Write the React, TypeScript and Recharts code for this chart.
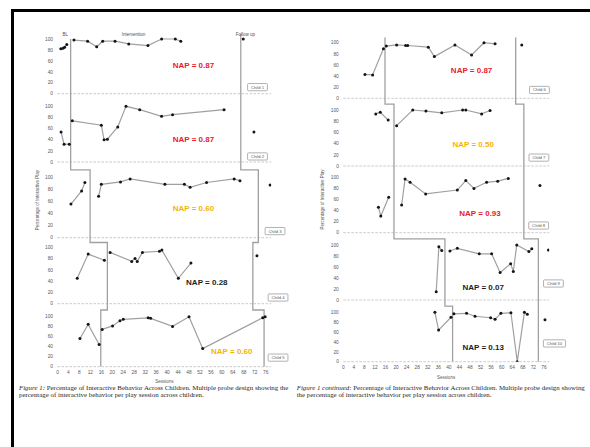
import React from "react";
import { LineChart, Line, XAxis, YAxis, ReferenceLine, ReferenceDot } from "recharts";

type Pt = [number, number]; // [session, % interactive play]

const sessionTicks = [0, 4, 8, 12, 16, 20, 24, 28, 32, 36, 40, 44, 48, 52, 56, 60, 64, 68, 72, 76];
const percentTicks = [0, 20, 40, 60, 80, 100];

// Figure 1: children 1-5
const child1Baseline: Pt[] = [[1.2, 82], [2, 83], [2.6, 85], [3.4, 90]];
const child1Intervention: Pt[] = [[6, 98], [11, 96], [14.3, 86], [16.5, 96], [21, 96], [26, 91], [33, 88], [38, 100], [43, 100], [45, 96]];
const child1FollowUp: Pt[] = [[67.8, 100]];

const child2Baseline: Pt[] = [[1.3, 54], [2.4, 32], [4.3, 32]];
const child2Intervention: Pt[] = [[5.4, 74], [16, 66], [17, 40], [18.2, 41], [22, 63], [25, 100], [30, 94], [38, 82], [42, 85], [60.8, 94]];
const child2FollowUp: Pt[] = [[71.7, 54]];

const child3Baseline: Pt[] = [[4.9, 56], [8.8, 78], [10, 92]];
const child3Intervention: Pt[] = [[15, 69], [16, 89], [23, 93], [26.5, 98], [39.2, 89], [46.3, 89], [48.4, 84], [54.4, 92], [64.5, 98], [66.6, 95]];
const child3FollowUp: Pt[] = [[77.6, 88]];

const child4Baseline: Pt[] = [[7.2, 45], [11.2, 88], [17.1, 77]];
const child4Intervention: Pt[] = [[19.2, 91], [27.1, 75], [28.3, 80], [29.1, 75], [31, 91], [37.2, 93], [38.1, 95], [44.1, 45], [48.7, 72]];
const child4FollowUp: Pt[] = [[72.8, 85]];

const child5Baseline: Pt[] = [[8.2, 56], [11.2, 84], [15.2, 44]];
const child5Intervention: Pt[] = [[16.3, 74], [20.1, 81], [22.8, 91], [24, 94], [33.1, 97], [34, 96], [42, 80], [48, 99], [53, 36], [74.9, 97]];
const child5FollowUp: Pt[] = [[75.8, 99]];

// Figure 1 continued: children 6-10
const child6Baseline: Pt[] = [[8.2, 43], [11.1, 42], [15.2, 89]];
const child6Intervention: Pt[] = [[16.3, 94], [20.2, 96], [23.6, 95], [24.4, 95], [32.2, 92], [34.5, 75], [42.3, 96], [48.6, 78], [53.3, 100], [57.5, 98]];
const child6FollowUp: Pt[] = [[67.6, 96]];

const child7Baseline: Pt[] = [[12.3, 93], [14, 96], [17, 82]];
const child7Intervention: Pt[] = [[20.2, 72], [26.3, 100], [31.3, 98], [37.3, 95], [45.2, 100], [46.4, 100], [52.4, 93], [55.6, 99]];
const child7FollowUp: Pt[] = [];

const child8Baseline: Pt[] = [[13.3, 46], [14.2, 30], [17.2, 64]];
const child8Intervention: Pt[] = [[22.1, 50], [23.4, 97], [25.3, 91], [31.2, 70], [43.2, 77], [46.4, 94], [49.5, 80], [54.3, 91], [58.5, 93], [62.5, 98]];
const child8FollowUp: Pt[] = [[74.5, 85]];

const child9Baseline: Pt[] = [[35.2, 15], [36.2, 97], [37.3, 90]];
const child9Intervention: Pt[] = [[40.4, 89], [43.2, 94], [51.5, 84], [56.2, 84], [59.4, 50], [63.4, 66], [64.4, 52], [65.7, 100], [70.3, 88], [71.4, 93]];
const child9FollowUp: Pt[] = [[77.7, 91]];

const child10Baseline: Pt[] = [[34.7, 100], [36.1, 64], [40.8, 90]];
const child10Intervention: Pt[] = [[41.9, 97], [46.7, 98], [49.9, 92], [55.8, 89], [57.5, 86], [59.7, 98], [63.5, 99], [65.9, 0], [68.6, 100], [69.7, 96]];
const child10FollowUp: Pt[] = [[76.4, 85]];

// session where each phase ends (top child first)
const leftBaselineEnd = [4.8, 4.8, 11.9, 18.2, 15.8];
const leftInterventionEnd = [66.9, 66.9, 73.3, 71.3, 75.4];
const rightBaselineEnd = [15.8, 19.2, 19.2, 38.5, 41.4];
const rightInterventionEnd = [65.3, 68.4, 68.4, 73.9, 73.9];

const leftChildNames = ["Child 1", "Child 2", "Child 3", "Child 4", "Child 5"];
const rightChildNames = ["Child 6", "Child 7", "Child 8", "Child 9", "Child 10"];
const leftNapLabels = ["NAP = 0.87", "NAP = 0.87", "NAP = 0.60", "NAP = 0.28", "NAP = 0.60"];
const rightNapLabels = ["NAP = 0.87", "NAP = 0.50", "NAP = 0.93", "NAP = 0.07", "NAP = 0.13"];
const phaseNames = ["BL", "Intervention", "Follow up"];

const RED = "#e8202a";
const GOLD = "#f4b400";
const INK = "#1c1c1c";

interface Band { bottom: number; height: number }
interface Series { baseline: Pt[]; intervention: Pt[]; followUp: Pt[] }
interface Layout {
  left: number; width: number; height: number;
  plotLeft: number; plotRight: number; plotTop: number; plotBottom: number;
  bands: Band[];
  napAt: Pt[]; napColors: string[];
  boxAt: Pt[];
  titleX: number; sessionsY: number;
  phaseLabelsAt?: Pt[];
}

const leftSeries: Series[] = [
  { baseline: child1Baseline, intervention: child1Intervention, followUp: child1FollowUp },
  { baseline: child2Baseline, intervention: child2Intervention, followUp: child2FollowUp },
  { baseline: child3Baseline, intervention: child3Intervention, followUp: child3FollowUp },
  { baseline: child4Baseline, intervention: child4Intervention, followUp: child4FollowUp },
  { baseline: child5Baseline, intervention: child5Intervention, followUp: child5FollowUp },
];
const rightSeries: Series[] = [
  { baseline: child6Baseline, intervention: child6Intervention, followUp: child6FollowUp },
  { baseline: child7Baseline, intervention: child7Intervention, followUp: child7FollowUp },
  { baseline: child8Baseline, intervention: child8Intervention, followUp: child8FollowUp },
  { baseline: child9Baseline, intervention: child9Intervention, followUp: child9FollowUp },
  { baseline: child10Baseline, intervention: child10Intervention, followUp: child10FollowUp },
];

// y axis is in px-sized units; each child gets its own 0-100 band
const leftLayout: Layout = {
  left: 0, width: 300, height: 400,
  plotLeft: 57.5, plotRight: 271.2, plotTop: 33.5, plotBottom: 366.7,
  bands: [
    { bottom: 273, height: 54.7 },
    { bottom: 204.7, height: 55.7 },
    { bottom: 129, height: 60 },
    { bottom: 63, height: 56.4 },
    { bottom: 0, height: 50.4 },
  ],
  napAt: [[49.6, 52], [49.6, 41], [49.6, 49], [54.5, 37], [63.6, 30]],
  napColors: [RED, RED, GOLD, INK, GOLD],
  boxAt: [[73, 12], [73, 10], [79.4, 11], [80.5, 11], [80.5, 18]],
  titleX: 37.7, sessionsY: 381,
  phaseLabelsAt: [[2.8, 332.5], [27.7, 332.5], [68.6, 332.5]],
};
const rightLayout: Layout = {
  left: 300, width: 290, height: 400,
  plotLeft: 343.3, plotRight: 549.2, plotTop: 37.25, plotBottom: 361.7,
  bands: [
    { bottom: 263.4, height: 55.6 },
    { bottom: 195.7, height: 56 },
    { bottom: 129, height: 55.4 },
    { bottom: 61.7, height: 55 },
    { bottom: 0, height: 49.4 },
  ],
  napAt: [[48.6, 50], [49.2, 39], [51.8, 35], [53, 22], [53, 28]],
  napColors: [RED, GOLD, RED, INK, INK],
  boxAt: [[74.3, 15], [74.1, 15], [74, 13], [79.6, 30], [80, 37]],
  titleX: 322.7, sessionsY: 377.3,
};

const FONT = '"Liberation Sans", Arial, sans-serif';
const LINE = "#a0a0a0";

const Panel = ({ layout, series, baselineEnd, interventionEnd, napLabels, childNames }: {
  layout: Layout; series: Series[]; baselineEnd: number[]; interventionEnd: number[];
  napLabels: string[]; childNames: string[];
}) => {
  const L = layout;
  const bands = L.bands;
  const yAxisWidth = 20;
  const xAxisHeight = 12;
  const domainMax = L.plotBottom - L.plotTop;
  const yOf = (i: number, v: number) => bands[i].bottom + (v / 100) * bands[i].height;
  const rows = (i: number, pts: Pt[]) => pts.map(([x, v]) => ({ x, y: yOf(i, v) }));
  const yTicks = bands.flatMap((b) => percentTicks.map((p) => b.bottom + (p / 100) * b.height));
  const fmtY = (t: number) => {
    const b = bands.find((bb) => t >= bb.bottom - 0.01 && t <= bb.bottom + bb.height + 0.01);
    return b ? String(Math.round(((t - b.bottom) / b.height) * 100)) : "";
  };
  const phasePath = (xs: number[], startY: number) => {
    const pts = [{ x: xs[0], y: startY }];
    bands.forEach((b, i) => {
      if (i < bands.length - 1) {
        const nx = bands[i + 1];
        const stepY = (b.bottom + nx.bottom + nx.height) / 2;
        pts.push({ x: xs[i], y: stepY }, { x: xs[i + 1], y: stepY });
      } else {
        pts.push({ x: xs[i], y: b.bottom });
      }
    });
    return pts;
  };
  const dot = (p: any) => <circle key={`d${p.index}`} cx={p.cx} cy={p.cy} r={1.5} fill="#151515" />;

  const yTitle = (p: any) => {
    const vb = p.viewBox;
    const x = L.titleX - L.left;
    const y = vb.y + vb.height / 2;
    return (
      <text x={x} y={y} transform={`rotate(-90 ${x} ${y})`} textAnchor="middle" dominantBaseline="central" fontSize={4.5} fill="#595959">
        Percentage of Interactive Play
      </text>
    );
  };
  const xTitle = (p: any) => {
    const vb = p.viewBox;
    return (
      <text x={vb.x + vb.width / 2} y={L.sessionsY} textAnchor="middle" dominantBaseline="central" fontSize={4.5} fill="#595959">
        Sessions
      </text>
    );
  };

  return (
    <div style={{ position: "absolute", left: L.left, top: 0 }}>
      <LineChart
        width={L.width}
        height={L.height}
        margin={{
          top: L.plotTop,
          right: L.left + L.width - L.plotRight,
          bottom: L.height - L.plotBottom - xAxisHeight,
          left: L.plotLeft - L.left - yAxisWidth,
        }}
        style={{ fontFamily: FONT }}
      >
        <XAxis
          type="number" dataKey="x" domain={[0, 78]} ticks={sessionTicks} interval={0} allowDataOverflow
          axisLine={false} tickLine={false} tickSize={1} tickMargin={2.6} height={xAxisHeight}
          tick={{ fontSize: 4.8, fill: "#595959" }} label={{ content: xTitle }}
        />
        <YAxis
          type="number" domain={[0, domainMax]} ticks={yTicks} interval={0} allowDataOverflow width={yAxisWidth}
          axisLine={false} tickLine={false} tickSize={2} tickMargin={2.5} tickFormatter={fmtY}
          tick={{ fontSize: 4.8, fill: "#595959" }} label={{ content: yTitle }}
        />
        {bands.map((b, i) => (
          <ReferenceLine key={`zero${i}`} y={b.bottom} stroke="#c4c4c4" strokeWidth={0.9} strokeDasharray="2.5 1.5" />
        ))}
        <Line
          data={phasePath(baselineEnd, L.phaseLabelsAt ? bands[0].bottom + bands[0].height : domainMax)}
          dataKey="y" type="linear" stroke={LINE} strokeWidth={1.3} dot={false} isAnimationActive={false}
        />
        <Line
          data={phasePath(interventionEnd, domainMax)}
          dataKey="y" type="linear" stroke={LINE} strokeWidth={1.3} dot={false} isAnimationActive={false}
        />
        {series.flatMap((s, i) =>
          [s.baseline, s.intervention, s.followUp]
            .filter((pts) => pts.length > 0)
            .map((pts, j) => (
              <Line
                key={`c${i}-${j}`} data={rows(i, pts)} dataKey="y" type="linear"
                stroke={LINE} strokeWidth={1.2} dot={dot} isAnimationActive={false}
              />
            ))
        )}
        {napLabels.map((t, i) => (
          <ReferenceDot
            key={`nap${i}`} x={L.napAt[i][0]} y={yOf(i, L.napAt[i][1])} r={0} ifOverflow="visible"
            shape={(p: any) => (
              <text x={p.cx} y={p.cy} textAnchor="middle" dominantBaseline="central" fontSize={8} fontWeight="bold" fill={L.napColors[i]}>
                {t}
              </text>
            )}
          />
        ))}
        {childNames.map((t, i) => {
          const w = 3 + t.length * 2.4;
          return (
            <ReferenceDot
              key={`box${i}`} x={L.boxAt[i][0]} y={yOf(i, L.boxAt[i][1])} r={0} ifOverflow="visible"
              shape={(p: any) => (
                <g>
                  <rect x={p.cx - w / 2} y={p.cy - 3.6} width={w} height={7.2} rx={0.8} fill="#fff" stroke="#9e9e9e" strokeWidth={0.8} />
                  <text x={p.cx} y={p.cy} textAnchor="middle" dominantBaseline="central" fontSize={4.2} fill="#595959">
                    {t}
                  </text>
                </g>
              )}
            />
          );
        })}
        {L.phaseLabelsAt &&
          phaseNames.map((t, i) => (
            <ReferenceDot
              key={`ph${i}`} x={L.phaseLabelsAt![i][0]} y={L.phaseLabelsAt![i][1]} r={0} ifOverflow="visible"
              shape={(p: any) => (
                <text x={p.cx} y={p.cy} textAnchor="middle" dominantBaseline="central" fontSize={4.5} fill="#505050">
                  {t}
                </text>
              )}
            />
          ))}
      </LineChart>
    </div>
  );
};

const captionStyle: React.CSSProperties = {
  position: "absolute",
  fontFamily: '"Liberation Serif", "Times New Roman", serif',
  fontSize: 6.9,
  lineHeight: "7px",
  color: "#262626",
  whiteSpace: "nowrap",
};

export default function App() {
  return (
    <div style={{ position: "absolute", left: 0, top: 0, width: 590, height: 447, background: "#fff", overflow: "hidden" }}>
      <div style={{ position: "absolute", left: 11, top: 9, width: 579, height: 2.5, background: "#000" }} />
      <div style={{ position: "absolute", left: 11, top: 9, width: 2.5, height: 438, background: "#000" }} />
      <Panel
        layout={leftLayout} series={leftSeries} baselineEnd={leftBaselineEnd} interventionEnd={leftInterventionEnd}
        napLabels={leftNapLabels} childNames={leftChildNames}
      />
      <Panel
        layout={rightLayout} series={rightSeries} baselineEnd={rightBaselineEnd} interventionEnd={rightInterventionEnd}
        napLabels={rightNapLabels} childNames={rightChildNames}
      />
      <div style={{ ...captionStyle, left: 19, top: 383.8 }}>
        <div><i>Figure 1:</i> Percentage of Interactive Behavior Across Children. Multiple probe design showing the</div>
        <div>percentage of interactive behavior per play session across children.</div>
      </div>
      <div style={{ ...captionStyle, left: 296.7, top: 383.8 }}>
        <div><i>Figure 1 continued:</i> Percentage of Interactive Behavior Across Children. Multiple probe design showing</div>
        <div>the percentage of interactive behavior per play session across children.</div>
      </div>
    </div>
  );
}
